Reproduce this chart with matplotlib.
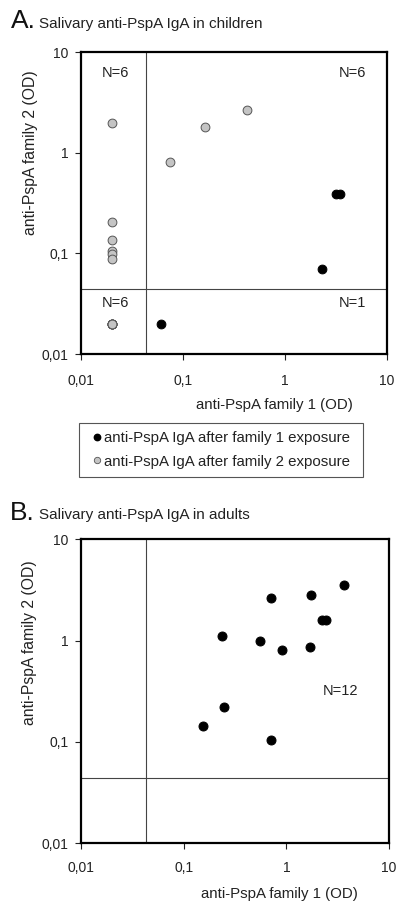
import matplotlib
matplotlib.use("Agg")
import matplotlib.pyplot as plt
from matplotlib.lines import Line2D
from matplotlib.patches import Rectangle

plt.rcParams['font.family'] = ['Liberation Sans', 'DejaVu Sans']

# ---- data ----
ticks = [0.01, 0.1, 1, 10]
tick_labels = ["0,01", "0,1", "1", "10"]

# Panel A (children)
a_fam1_x = [0.061, 2.29, 3.14, 3.5]
a_fam1_y = [0.020, 0.070, 0.386, 0.386]
a_fam2_x = [0.02, 0.02, 0.02, 0.02, 0.02, 0.02, 0.0747, 0.166, 0.42,
            0.02, 0.02, 0.02, 0.02, 0.02, 0.02]
a_fam2_y = [1.96, 0.205, 0.137, 0.105, 0.098, 0.088, 0.80, 1.79, 2.64,
            0.02, 0.02, 0.02, 0.02, 0.02, 0.02]
a_cut_x = 0.0434
a_cut_y = 0.0446
a_counts = ["N=6", "N=6", "N=6", "N=1"]

# Panel B (adults)
b_x = [3.64, 1.74, 0.703, 2.24, 2.41, 0.236, 0.553, 0.91, 1.69, 0.249, 0.154, 0.713]
b_y = [3.56, 2.80, 2.62, 1.61, 1.61, 1.12, 0.99, 0.81, 0.86, 0.22, 0.143, 0.105]
b_cut_x = 0.0427
b_cut_y = 0.0437
b_count = "N=12"

xlabel = "anti-PspA family 1 (OD)"
ylabel = "anti-PspA family 2 (OD)"
legend_labels = ["anti-PspA IgA after family 1 exposure",
                 "anti-PspA IgA after family 2 exposure"]

GRAY = "#c4c4c4"
EDGE_G = "#555555"
TXT = "#222222"

fig = plt.figure(figsize=(3.98, 9.01), dpi=100)

def setup(ax, cx, cy, xpad):
    ax.set_xscale('log')
    ax.set_yscale('log')
    ax.set_xlim(0.01, 10)
    ax.set_ylim(0.01, 10)
    ax.set_xticks(ticks)
    ax.set_xticklabels(tick_labels)
    ax.set_yticks(ticks)
    ax.set_yticklabels(tick_labels)
    ax.minorticks_off()
    ax.tick_params(direction='out', length=4, width=0.8, labelsize=10,
                   colors=TXT, pad=5)
    ax.tick_params(axis='x', pad=xpad)
    for s in ax.spines.values():
        s.set_linewidth(1.6)
        s.set_color('black')
    ax.axvline(cx, color='#444444', lw=0.8, zorder=1)
    ax.axhline(cy, color='#444444', lw=0.8, zorder=1)
    ax.set_xlabel(xlabel, fontsize=10.8, color=TXT)
    ax.set_ylabel(ylabel, fontsize=11.3, color=TXT)

# Panel A
axA = fig.add_axes([81/398, 1-354/901, 306/398, 302/901])
setup(axA, a_cut_x, a_cut_y, 10.5)
axA.scatter(a_fam2_x, a_fam2_y, s=40, c=GRAY, edgecolors=EDGE_G, linewidths=0.7, zorder=3)
axA.scatter(a_fam1_x, a_fam1_y, s=40, c='black', edgecolors='black', linewidths=0.7, zorder=3)
axA.xaxis.set_label_coords((274-81)/306, -(398-354)/302)
axA.yaxis.set_label_coords((38-81)/306, (354-153)/302)
posA = [((115-81)/306, (354-73)/302), ((352-81)/306, (354-73)/302),
        ((115-81)/306, (354-303)/302), ((352-81)/306, (354-303)/302)]
for (px, py), t in zip(posA, a_counts):
    axA.text(px, py, t, transform=axA.transAxes, ha='center', va='center',
             fontsize=10.5, color=TXT)

fig.text(11/398, 1-21/901, "A.", fontsize=19, ha='left', va='center', color='#111111')
fig.text(39/398, 1-24/901, "Salivary anti-PspA IgA in children", fontsize=11,
         ha='left', va='center', color=TXT)

# Legend (frame drawn separately)
handles = [Line2D([], [], marker='o', ls='none', markersize=4.6, markerfacecolor='black',
                  markeredgecolor='black'),
           Line2D([], [], marker='o', ls='none', markersize=4.6, markerfacecolor=GRAY,
                  markeredgecolor=EDGE_G, markeredgewidth=0.6)]
leg = fig.legend(handles, legend_labels, loc='center left',
                 bbox_to_anchor=(92.5/398, 1-450/901),
                 fontsize=10.85, frameon=False,
                 handlelength=0.6, handletextpad=0.15, borderpad=0, labelspacing=0.6,
                 borderaxespad=0)
for t in leg.get_texts():
    t.set_color(TXT)
fig.add_artist(Rectangle((79/398, 1-477/901), 284/398, 54/901, transform=fig.transFigure,
                         fill=False, edgecolor='#555555', linewidth=0.8))

# Panel B
axB = fig.add_axes([81/398, 1-843.3/901, 308/398, 304/901])
setup(axB, b_cut_x, b_cut_y, 9)
axB.scatter(b_x, b_y, s=42, c='black', edgecolors='black', linewidths=0.7, zorder=3)
axB.xaxis.set_label_coords((279-81)/308, -(887-843.3)/304)
axB.yaxis.set_label_coords((37-81)/308, (843.3-643)/304)
axB.text((340-81)/308, (843.3-691)/304, b_count, transform=axB.transAxes,
         ha='center', va='center', fontsize=10.5, color=TXT)

fig.text(10/398, 1-513/901, "B.", fontsize=19, ha='left', va='center', color='#111111')
fig.text(39/398, 1-515/901, "Salivary anti-PspA IgA in adults", fontsize=11,
         ha='left', va='center', color=TXT)

fig.savefig("out.png", dpi=100)
